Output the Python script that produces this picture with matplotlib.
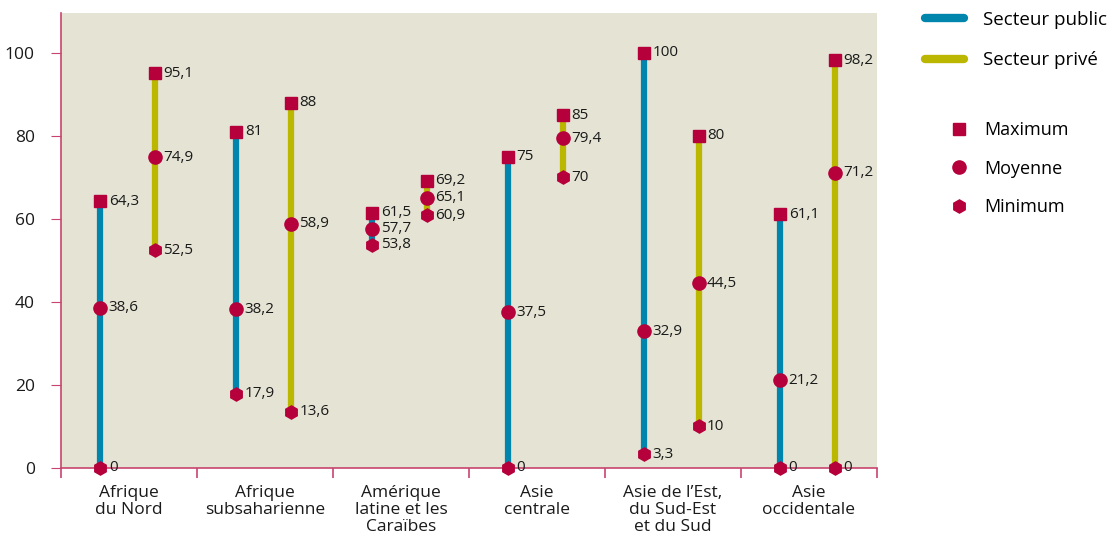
import numpy as np
import matplotlib
matplotlib.use('Agg')
import matplotlib.pyplot as plt
from matplotlib.lines import Line2D

plt.rcParams['font.family'] = ['Open Sans', 'DejaVu Sans']

# 数据
regions = ['Afrique\ndu Nord', 'Afrique\nsubsaharienne', 'Amérique\nlatine et les\nCaraïbes',
           'Asie\ncentrale', 'Asie de l’Est,\ndu Sud-Est\net du Sud', 'Asie\noccidentale']
public_max = [64.3, 81, 61.5, 75, 100, 61.1]
public_mean = [38.6, 38.2, 57.7, 37.5, 32.9, 21.2]
public_min = [0, 17.9, 53.8, 0, 3.3, 0]
private_max = [95.1, 88, 69.2, 85, 80, 98.2]
private_mean = [74.9, 58.9, 65.1, 79.4, 44.5, 71.2]
private_min = [52.5, 13.6, 60.9, 70, 10, 0]

blue = '#0086ad'
olive = '#bbb600'
red = '#b5003b'
spine = '#c8446e'

def fmt(v):
    return ('%g' % v).replace('.', ',')

fig = plt.figure(figsize=(11.1, 5.48), dpi=100)
ax = fig.add_axes([0.055, 0.146, 0.735, 0.830])
ax.set_facecolor('#e5e3d4')

x = np.arange(len(regions))
series = [(x - 0.21, public_min, public_mean, public_max, blue),
          (x + 0.19, private_min, private_mean, private_max, olive)]
for xs, mn, me, mx, col in series:
    ax.vlines(xs, mn, mx, color=col, lw=4.5, zorder=2)
    ax.plot(xs, mx, 's', color=red, ms=8.5, ls='none', zorder=3, clip_on=False)
    ax.plot(xs, me, 'o', color=red, ms=9.5, ls='none', zorder=3, clip_on=False)
    ax.plot(xs, mn, 'h', color=red, ms=9.5, ls='none', zorder=3, clip_on=False)
    for xi, a, b, c in zip(xs, mn, me, mx):
        for v in (a, b, c):
            ax.annotate(fmt(v), (xi, v), xytext=(6, 0), textcoords='offset points',
                        va='center', ha='left', fontsize=11, color='#1a1a1a')

ax.set_xlim(-0.5, len(regions) - 0.5)
ax.set_ylim(0, 109.6)
ax.set_yticks(np.arange(0, 101, 20))
ax.tick_params(axis='y', length=7, color=spine, labelsize=12.5, pad=12, labelcolor='#1a1a1a')
ax.set_xticks(x)
ax.set_xticklabels(regions, fontsize=12.5, linespacing=1.1, color='#1a1a1a')
ax.set_xticks(np.arange(-0.5, len(regions)), minor=True)
ax.tick_params(axis='x', which='major', length=0, pad=12)
ax.tick_params(axis='x', which='minor', length=7, color=spine, width=1.2)
for s in ['top', 'right']:
    ax.spines[s].set_visible(False)
for s in ['left', 'bottom']:
    ax.spines[s].set_color(spine)
    ax.spines[s].set_linewidth(1.2)

# 图例
h1 = [Line2D([], [], color=blue, lw=6, solid_capstyle='round'),
      Line2D([], [], color=olive, lw=6, solid_capstyle='round')]
fig.legend(h1, ['Secteur public', 'Secteur privé'], loc='upper left',
           bbox_to_anchor=(0.818, 1.011), frameon=False, fontsize=13.5,
           handlelength=2.1, labelspacing=1.2, handletextpad=1.0)
h2 = [Line2D([], [], color=red, marker='s', ls='none', ms=8.5),
      Line2D([], [], color=red, marker='o', ls='none', ms=9.5),
      Line2D([], [], color=red, marker='h', ls='none', ms=9.5)]
fig.legend(h2, ['Maximum', 'Moyenne', 'Minimum'], loc='upper left',
           bbox_to_anchor=(0.8415, 0.809), frameon=False, fontsize=13,
           handlelength=1.0, labelspacing=1.15, handletextpad=0.9)

fig.savefig('out.png', dpi=100, facecolor='white')
